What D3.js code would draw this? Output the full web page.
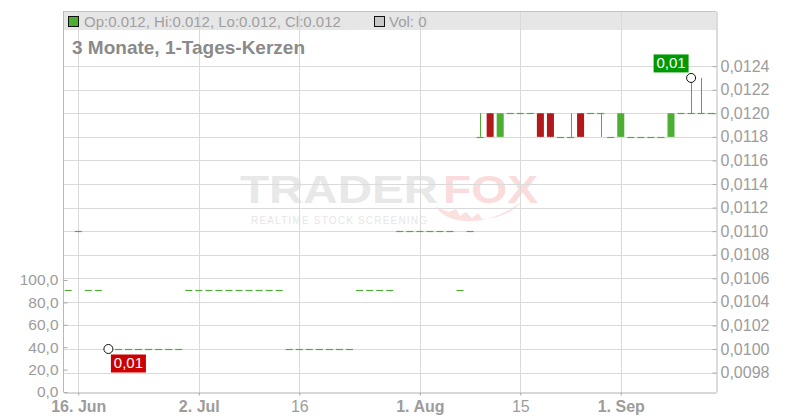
<!DOCTYPE html>
<html>
<head>
<meta charset="utf-8">
<script src="https://cdn.jsdelivr.net/npm/d3@7/dist/d3.min.js"></script>
<style>
  html, body { margin: 0; padding: 0; background: #ffffff; }
  svg { display: block; font-family: "Liberation Sans", Arial, sans-serif; }
</style>
</head>
<body>
<svg id="chart" width="800" height="420"></svg>
<script>
// ---------- DATA ----------
const dates = [
  "2025-06-13",
  "2025-06-16","2025-06-17","2025-06-18","2025-06-19","2025-06-20",
  "2025-06-23","2025-06-24","2025-06-25","2025-06-26","2025-06-27",
  "2025-06-30","2025-07-01","2025-07-02","2025-07-03","2025-07-04",
  "2025-07-07","2025-07-08","2025-07-09","2025-07-10","2025-07-11",
  "2025-07-14","2025-07-15","2025-07-16","2025-07-17","2025-07-18",
  "2025-07-21","2025-07-22","2025-07-23","2025-07-24","2025-07-25",
  "2025-07-28","2025-07-29","2025-07-30","2025-07-31","2025-08-01",
  "2025-08-04","2025-08-05","2025-08-06","2025-08-07","2025-08-08",
  "2025-08-11","2025-08-12","2025-08-13","2025-08-14","2025-08-15",
  "2025-08-18","2025-08-19","2025-08-20","2025-08-21","2025-08-22",
  "2025-08-26","2025-08-27","2025-08-28","2025-08-29",
  "2025-09-01","2025-09-02","2025-09-03","2025-09-04","2025-09-05",
  "2025-09-08","2025-09-09","2025-09-10","2025-09-11","2025-09-12"
];
const openValues = [
  0.0105,
  0.011, 0.0105, 0.0105, 0.01, 0.01,
  0.01, 0.01, 0.01, 0.01, 0.01,
  0.01, 0.0105, 0.0105, 0.0105, 0.0105,
  0.0105, 0.0105, 0.0105, 0.0105, 0.0105,
  0.0105, 0.01, 0.01, 0.01, 0.01,
  0.01, 0.01, 0.01, 0.0105, 0.0105,
  0.0105, 0.0105, 0.011, 0.011, 0.011,
  0.011, 0.011, 0.011, 0.0105, 0.011,
  0.0118, 0.012, 0.0118, 0.012, 0.012,
  0.012, 0.012, 0.012, 0.0118, 0.0118,
  0.012, 0.012, 0.012, 0.0118,
  0.0118, 0.0118, 0.0118, 0.0118, 0.0118,
  0.0118, 0.012, 0.012, 0.012, 0.012
];
const highValues = [
  0.0105,
  0.011, 0.0105, 0.0105, 0.01, 0.01,
  0.01, 0.01, 0.01, 0.01, 0.01,
  0.01, 0.0105, 0.0105, 0.0105, 0.0105,
  0.0105, 0.0105, 0.0105, 0.0105, 0.0105,
  0.0105, 0.01, 0.01, 0.01, 0.01,
  0.01, 0.01, 0.01, 0.0105, 0.0105,
  0.0105, 0.0105, 0.011, 0.011, 0.011,
  0.011, 0.011, 0.011, 0.0105, 0.011,
  0.012, 0.012, 0.012, 0.012, 0.012,
  0.012, 0.012, 0.012, 0.0118, 0.012,
  0.012, 0.012, 0.012, 0.0118,
  0.012, 0.0118, 0.0118, 0.0118, 0.0118,
  0.012, 0.012, 0.0123, 0.0123, 0.012
];
const lowValues = [
  0.0105,
  0.011, 0.0105, 0.0105, 0.01, 0.01,
  0.01, 0.01, 0.01, 0.01, 0.01,
  0.01, 0.0105, 0.0105, 0.0105, 0.0105,
  0.0105, 0.0105, 0.0105, 0.0105, 0.0105,
  0.0105, 0.01, 0.01, 0.01, 0.01,
  0.01, 0.01, 0.01, 0.0105, 0.0105,
  0.0105, 0.0105, 0.011, 0.011, 0.011,
  0.011, 0.011, 0.011, 0.0105, 0.011,
  0.0118, 0.0118, 0.0118, 0.012, 0.012,
  0.012, 0.0118, 0.0118, 0.0118, 0.0118,
  0.0118, 0.012, 0.0118, 0.0118,
  0.0118, 0.0118, 0.0118, 0.0118, 0.0118,
  0.0118, 0.012, 0.012, 0.012, 0.012
];
const closeValues = [
  0.0105,
  0.011, 0.0105, 0.0105, 0.01, 0.01,
  0.01, 0.01, 0.01, 0.01, 0.01,
  0.01, 0.0105, 0.0105, 0.0105, 0.0105,
  0.0105, 0.0105, 0.0105, 0.0105, 0.0105,
  0.0105, 0.01, 0.01, 0.01, 0.01,
  0.01, 0.01, 0.01, 0.0105, 0.0105,
  0.0105, 0.0105, 0.011, 0.011, 0.011,
  0.011, 0.011, 0.011, 0.0105, 0.011,
  0.0118, 0.0118, 0.012, 0.012, 0.012,
  0.012, 0.0118, 0.0118, 0.0118, 0.0118,
  0.0118, 0.012, 0.012, 0.0118,
  0.012, 0.0118, 0.0118, 0.0118, 0.0118,
  0.012, 0.012, 0.012, 0.012, 0.012
];
const volumeValues = [
  0,
  0,0,0,0,0, 0,0,0,0,0, 0,0,0,0,0, 0,0,0,0,0,
  0,0,0,0,0, 0,0,0,0,0, 0,0,0,0,0, 0,0,0,0,0,
  0,0,0,0,0, 0,0,0,0,0, 0,0,0,0, 0,0,0,0,0, 0,0,0,0,0
];
const priceTicks = [0.0098,0.01,0.0102,0.0104,0.0106,0.0108,0.011,0.0112,0.0114,0.0116,0.0118,0.012,0.0122,0.0124];
const volumeTicks = [0,20,40,60,80,100];
const xTickDates = ["2025-06-16","2025-07-02","2025-07-16","2025-08-01","2025-08-15","2025-09-01"];
const xTickLabels = ["16. Jun","2. Jul","16","1. Aug","15","1. Sep"];
const xTickBold = [true,true,false,true,false,true];
const titleText = "3 Monate, 1-Tages-Kerzen";

// ---------- LAYOUT ----------
const L = 64, R = 716, T = 11, B = 392;
const green = "#4cae33", red = "#b2191b";
const gridColor = "#dadada", axisText = "#9c9c9c";

const svg = d3.select("#chart");
const n = dates.length;

const x = d3.scaleLinear().domain([-0.42, n - 0.52]).range([L, R]);
const y = d3.scaleLinear().domain([0.0096351, 0.012868]).range([B, T]);
const yv = d3.scaleLinear().domain([0, 100]).range([B, 280]);
const crisp = v => Math.round(v) + 0.5;

// legend bar background
svg.append("rect").attr("x", L).attr("y", T).attr("width", R - L).attr("height", 19)
  .attr("fill", "#e6e6e6");

// watermark
const wm = svg.append("g").attr("class", "watermark");
wm.append("text").attr("x", 240).attr("y", 203).attr("font-size", 39).attr("font-weight", "bold")
  .attr("fill", "#e8e8e8").attr("textLength", 198).attr("lengthAdjust", "spacingAndGlyphs").text("TRADER");
wm.append("path")
  .attr("d", "M436,207 C446,224 486,230 522,201 C512,214 496,219 482,219 L478,213 L472,218 L466,212 L460,216 L456,209 L449,212 Z")
  .attr("fill", "#fbe0e0");
wm.append("text").attr("x", 443).attr("y", 203).attr("font-size", 39).attr("font-weight", "bold")
  .attr("fill", "#fadcdc").attr("textLength", 95).attr("lengthAdjust", "spacingAndGlyphs").text("FOX");
wm.append("text").attr("x", 251).attr("y", 223.5).attr("font-size", 10)
  .attr("fill", "#e6e6e6").attr("textLength", 176).attr("lengthAdjust", "spacing").text("REALTIME STOCK SCREENING");

// horizontal grid
svg.append("g").selectAll("line").data(priceTicks).join("line")
  .attr("x1", L).attr("x2", R)
  .attr("y1", d => crisp(y(d))).attr("y2", d => crisp(y(d)))
  .attr("stroke", gridColor).attr("stroke-width", 1);

// vertical grid
const tickIdx = xTickDates.map(d => dates.indexOf(d));
svg.append("g").selectAll("line").data(tickIdx).join("line")
  .attr("x1", d => crisp(x(d))).attr("x2", d => crisp(x(d)))
  .attr("y1", T).attr("y2", B)
  .attr("stroke", gridColor).attr("stroke-width", 1);

// borders
svg.append("line").attr("x1", L).attr("x2", R).attr("y1", T + 0.5).attr("y2", T + 0.5).attr("stroke", "#c4c4c4");
svg.append("line").attr("x1", L - 0.5).attr("x2", L - 0.5).attr("y1", T).attr("y2", B).attr("stroke", "#b8b8b8");

// right price axis
const rightAxis = d3.axisRight(y).tickValues(priceTicks)
  .tickFormat(d => d.toFixed(4).replace(".", ","))
  .tickSizeInner(-4).tickSizeOuter(0).tickPadding(4);
const ra = svg.append("g").attr("transform", `translate(${R + 0.5},0)`).call(rightAxis);
ra.select(".domain").attr("stroke", "#b8b8b8");
ra.selectAll(".tick line").attr("stroke", "#a8a8a8");
ra.selectAll(".tick text").attr("fill", axisText).attr("font-size", 16).attr("font-family", "Liberation Sans, Arial, sans-serif");

// left volume axis
const leftAxis = d3.axisLeft(yv).tickValues(volumeTicks)
  .tickFormat(d => d.toFixed(1).replace(".", ","))
  .tickSizeInner(-4).tickSizeOuter(0).tickPadding(5);
const la = svg.append("g").attr("transform", `translate(${L - 0.5},0)`).call(leftAxis);
la.select(".domain").remove();
la.selectAll(".tick line").attr("stroke", "#a8a8a8");
la.selectAll(".tick text").attr("fill", axisText).attr("font-size", 15.5).attr("font-family", "Liberation Sans, Arial, sans-serif");

// bottom axis
const bottomAxis = d3.axisBottom(x).tickValues(tickIdx)
  .tickFormat((d, i) => xTickLabels[i])
  .tickSizeInner(3).tickSizeOuter(0).tickPadding(5);
const ba = svg.append("g").attr("transform", `translate(0,${B + 0.5})`).call(bottomAxis);
ba.select(".domain").attr("stroke", "#b0b0b0");
ba.selectAll(".tick line").attr("stroke", "#a8a8a8");
ba.selectAll(".tick text").attr("fill", axisText).attr("font-size", 16)
  .attr("font-family", "Liberation Sans, Arial, sans-serif")
  .attr("font-weight", (d, i) => xTickBold[i] ? "bold" : "normal");

// volume bars (all zero)
svg.append("g").selectAll("rect").data(volumeValues).join("rect")
  .attr("x", (d, i) => x(i) - 3.5).attr("width", 7)
  .attr("y", d => yv(d)).attr("height", d => B - yv(d))
  .attr("fill", "#c8c8c8");

// candles
const candles = dates.map((d, i) => ({ i, o: openValues[i], h: highValues[i], l: lowValues[i], c: closeValues[i] }));
const cg = svg.append("g").attr("class", "candles");
candles.forEach(d => {
  const cx = x(d.i);
  const col = d.c >= d.o ? green : red;
  if (d.h > d.l) {
    cg.append("line").attr("x1", crisp(cx)).attr("x2", crisp(cx))
      .attr("y1", y(d.h)).attr("y2", y(d.l)).attr("stroke", col).attr("stroke-width", 1);
  }
  if (d.o === d.c) {
    const yy = crisp(y(d.o));
    cg.append("line").attr("x1", cx - 3.5).attr("x2", cx + 3.5).attr("y1", yy).attr("y2", yy)
      .attr("stroke", col).attr("stroke-width", 1.2);
  } else {
    const top = y(Math.max(d.o, d.c)), bot = y(Math.min(d.o, d.c));
    cg.append("rect").attr("x", cx - 3.5).attr("width", 7)
      .attr("y", top).attr("height", bot - top).attr("fill", col);
  }
});

// min / max markers
const maxVal = d3.max(highValues), minVal = d3.min(lowValues);
const iMax = highValues.indexOf(maxVal), iMin = lowValues.indexOf(minVal);
const fmt = v => v.toFixed(2).replace(".", ",");
function marker(i, v, isMax) {
  const cx = x(i), cy = y(v);
  svg.append("circle").attr("cx", cx).attr("cy", cy).attr("r", 4.5)
    .attr("fill", "#ffffff").attr("stroke", "#111").attr("stroke-width", 1);
  const w = 35, h = 18;
  const bx = isMax ? cx - 2.5 - w : cx + 2.5;
  const by = isMax ? cy - 5.5 - h : cy + 5.5;
  svg.append("rect").attr("x", bx).attr("y", by).attr("width", w).attr("height", h)
    .attr("fill", isMax ? "#009a00" : "#cc0000");
  svg.append("text").attr("x", bx + w / 2).attr("y", by + 14).attr("text-anchor", "middle")
    .attr("font-size", 15).attr("fill", "#ffffff").text(fmt(v));
}
marker(iMax, maxVal, true);
marker(iMin, minVal, false);

// legend
const last = n - 1;
svg.append("rect").attr("x", 68.5).attr("y", 16.5).attr("width", 10).attr("height", 10)
  .attr("fill", closeValues[last] >= openValues[last] ? green : red).attr("stroke", "#111");
svg.append("text").attr("x", 84).attr("y", 27).attr("font-size", 15).attr("fill", "#a0a0a0")
  .text(`Op:${openValues[last]}, Hi:${highValues[last]}, Lo:${lowValues[last]}, Cl:${closeValues[last]}`);
svg.append("rect").attr("x", 374.5).attr("y", 16.5).attr("width", 10).attr("height", 10)
  .attr("fill", "#c8c8c8").attr("stroke", "#111");
svg.append("text").attr("x", 389).attr("y", 27).attr("font-size", 15).attr("fill", "#a0a0a0")
  .text(`Vol: ${volumeValues[last]}`);

// title
svg.append("text").attr("x", 72).attr("y", 54).attr("font-size", 19).attr("font-weight", "bold")
  .attr("fill", "#8a8a8a").text(titleText);
</script>
</body>
</html>
